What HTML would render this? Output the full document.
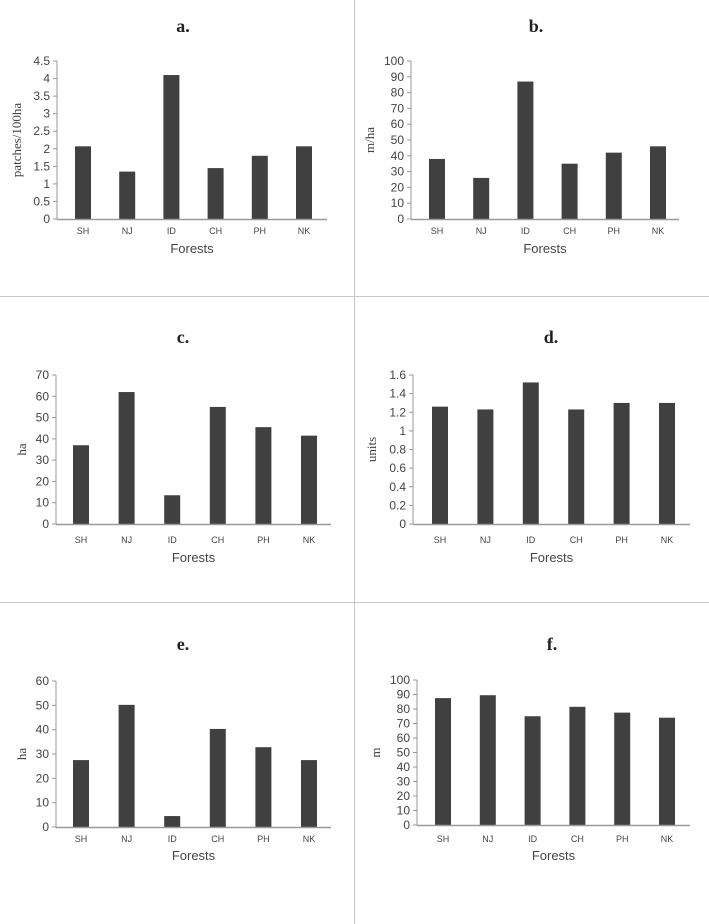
<!DOCTYPE html>
<html><head><meta charset="utf-8"><style>
body{margin:0;background:#fff}
svg{display:block}
.tk{font-family:"Liberation Sans",sans-serif;font-size:12px;fill:#444}
.cat{font-family:"Liberation Sans",sans-serif;font-size:9px;fill:#444}
.xt{font-family:"Liberation Sans",sans-serif;font-size:13px;fill:#444}
.yt{font-family:"Liberation Serif",serif;font-size:13px;fill:#444}
.ti{font-family:"Liberation Serif",serif;font-size:18px;font-weight:bold;fill:#222}
</style></head><body>
<svg id="fig" width="709" height="924" xmlns="http://www.w3.org/2000/svg">
<line x1="354.5" y1="0" x2="354.5" y2="924" stroke="#c8c8c8"/>
<line x1="0" y1="296.5" x2="709" y2="296.5" stroke="#c8c8c8"/>
<line x1="0" y1="602.5" x2="709" y2="602.5" stroke="#c8c8c8"/>
</svg>
<script>
const categories=["SH","NJ","ID","CH","PH","NK"];
const valuesA=[2.07,1.35,4.1,1.45,1.8,2.07];
const valuesB=[38,26,87,35,42,46];
const valuesC=[37,62,13.5,55,45.5,41.5];
const valuesD=[1.26,1.23,1.52,1.23,1.3,1.3];
const valuesE=[27.5,50.2,4.5,40.3,32.8,27.5];
const valuesF=[87.5,89.5,75,81.5,77.5,74];
const ticksA=["0","0.5","1","1.5","2","2.5","3","3.5","4","4.5"];
const ticksB=["0","10","20","30","40","50","60","70","80","90","100"];
const ticksC=["0","10","20","30","40","50","60","70"];
const ticksD=["0","0.2","0.4","0.6","0.8","1","1.2","1.4","1.6"];
const ticksE=["0","10","20","30","40","50","60"];
const ticksF=["0","10","20","30","40","50","60","70","80","90","100"];

const NS="http://www.w3.org/2000/svg";
const svg=document.getElementById('fig');
function mk(tag,attrs,parent){const e=document.createElementNS(NS,tag);for(const k in attrs)e.setAttribute(k,attrs[k]);(parent||svg).appendChild(e);return e;}

const panels=[
 {id:"a",title:"a.",ytitle:"patches/100ha",vals:valuesA,ticks:ticksA,ax:57,ax2:327,y0:219,yt:61,c0:83,c5:304,tx:183,tty:32,lab:234,ft:253},
 {id:"b",title:"b.",ytitle:"m/ha",vals:valuesB,ticks:ticksB,ax:411,ax2:679,y0:219,yt:61,c0:437,c5:658,tx:536,tty:32,lab:234,ft:253},
 {id:"c",title:"c.",ytitle:"ha",vals:valuesC,ticks:ticksC,ax:56,ax2:331,y0:524,yt:375,c0:81,c5:309,tx:183,tty:343,lab:543,ft:562},
 {id:"d",title:"d.",ytitle:"units",vals:valuesD,ticks:ticksD,ax:413,ax2:690,y0:524,yt:375,c0:440,c5:667,tx:551,tty:343,lab:543,ft:562},
 {id:"e",title:"e.",ytitle:"ha",vals:valuesE,ticks:ticksE,ax:56,ax2:331,y0:827,yt:681,c0:81,c5:309,tx:183,tty:650,lab:842,ft:860},
 {id:"f",title:"f.",ytitle:"m",vals:valuesF,ticks:ticksF,ax:417,ax2:690,y0:825,yt:680,c0:443,c5:667,tx:552,tty:650,lab:842,ft:860}
];

panels.forEach(p=>{
 const g=mk('g',{});
 
 
 const maxV=parseFloat(p.ticks[p.ticks.length-1]);
 const y=v=>p.y0-(v/maxV)*(p.y0-p.yt);
 const x=i=>p.c0+i*(p.c5-p.c0)/(categories.length-1);
 const t=mk('text',{x:p.tx,y:p.tty,'text-anchor':'middle',class:'ti'},g);t.textContent=p.title;
 
 
 mk('line',{x1:p.ax,y1:p.yt,x2:p.ax,y2:p.y0,stroke:'#999'},g);
 p.ticks.forEach(tk=>{
  const v=parseFloat(tk),yy=y(v);
  mk('line',{x1:p.ax-4,y1:yy,x2:p.ax,y2:yy,stroke:'#999'},g);
  const tt=mk('text',{x:p.ax-7,y:yy+4,'text-anchor':'end',class:'tk'},g);tt.textContent=tk;
  
  
 });
 p.vals.forEach((v,i)=>{
  const r=mk('rect',{x:x(i)-8,y:y(v),width:16,height:p.y0-y(v),fill:'#404040'},g);
  
  
  const c=mk('text',{x:x(i),y:p.lab,'text-anchor':'middle',class:'cat'},g);c.textContent=categories[i];
  
  
 });
 mk('line',{x1:p.ax,y1:p.y0+0.5,x2:p.ax2,y2:p.y0+0.5,stroke:'#999',"stroke-width":1.5},g);
 const f=mk('text',{x:(p.ax+p.ax2)/2,y:p.ft,'text-anchor':'middle',class:'xt'},g);f.textContent='Forests';
 
 
 const ym=(p.y0+p.yt)/2, yx=p.ax-(p.id==='a'?36:(p.ticks[p.ticks.length-1].length>2?37:30));
 const yt=mk('text',{x:yx,y:ym,'text-anchor':'middle',class:'yt',transform:'rotate(-90 '+yx+' '+ym+')'},g);yt.textContent=p.ytitle;
 
 
});
</script>
</body></html>
